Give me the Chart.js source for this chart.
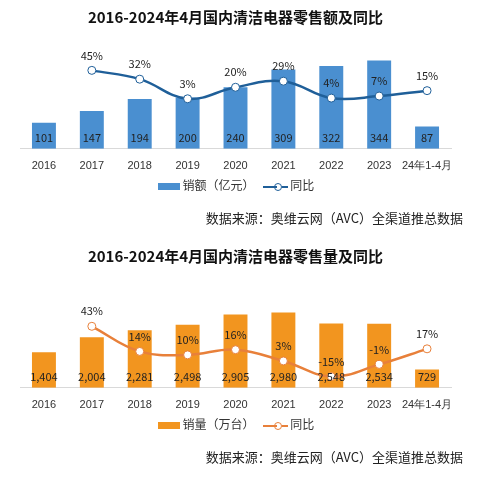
<!DOCTYPE html>
<html><head><meta charset="utf-8">
<script src="https://cdn.jsdelivr.net/npm/chart.js@4"></script>
<style>
body{margin:0;background:#fff;font-family:"Noto Sans CJK SC","Noto Sans",sans-serif;}
.block{position:relative;width:499px;height:239px;}
.block canvas{position:absolute;left:0;top:0;}
.legend{position:absolute;top:176px;left:0;width:472px;text-align:center;font-size:12px;color:#333;}
.legend span{display:inline-block;vertical-align:middle;}
.src{position:absolute;top:208px;right:36px;font-size:13px;color:#222;}
</style></head>
<body>
<div class="block"><canvas id="c1" width="499" height="239"></canvas>
<div class="legend"><span style="width:22px;height:7px;background:#4a8fd0"></span> 销额（亿元） &nbsp;&nbsp;<span style="width:14px;height:2px;background:#1f5f99"></span><span style="width:6px;height:6px;border:1px solid #1f5f99;border-radius:50%;margin-left:-3px"></span><span style="width:6px;height:2px;background:#1f5f99"></span> 同比</div>
<div class="src">数据来源：奥维云网（AVC）全渠道推总数据</div></div>
<div class="block"><canvas id="c2" width="499" height="239"></canvas>
<div class="legend"><span style="width:22px;height:7px;background:#f2951f"></span> 销量（万台） &nbsp;&nbsp;<span style="width:14px;height:2px;background:#e8803a"></span><span style="width:6px;height:6px;border:1px solid #e8803a;border-radius:50%;margin-left:-3px"></span><span style="width:6px;height:2px;background:#e8803a"></span> 同比</div>
<div class="src">数据来源：奥维云网（AVC）全渠道推总数据</div></div>
<script>
const years = ['2016','2017','2018','2019','2020','2021','2022','2023','24年1-4月'];
const salesValue = [101,147,194,200,240,309,322,344,87];
const valueYoY = [null,45,32,3,20,29,4,7,15];
const salesVolume = [1404,2004,2281,2498,2905,2980,2548,2534,729];
const volumeYoY = [null,43,14,10,16,3,-15,-1,17];

const labelPlugin = {
  id: 'labels',
  afterDatasetsDraw(chart) {
    const ctx = chart.ctx;
    ctx.save();
    ctx.font = '11px "Noto Sans CJK SC", "Noto Sans", sans-serif';
    ctx.fillStyle = '#222';
    ctx.textAlign = 'center';
    ctx.textBaseline = 'middle';
    const base = chart.scales.y.bottom;
    chart.getDatasetMeta(0).data.forEach((b, i) => {
      ctx.fillText(chart.data.datasets[0].data[i].toLocaleString('en-US'), b.x, base - 11);
    });
    chart.getDatasetMeta(1).data.forEach((p, i) => {
      const v = chart.data.datasets[1].data[i];
      if (v == null) return;
      ctx.fillText(v + '%', p.x, p.y - 15);
    });
    ctx.restore();
  }
};

function makeChart(id, title, bars, line, barColor, lineColor, yMax, y2Min, y2Max) {
  new Chart(document.getElementById(id), {
    data: {
      labels: years,
      datasets: [
        { type: 'bar', data: bars, backgroundColor: barColor, barPercentage: 0.5, categoryPercentage: 1, order: 2 },
        { type: 'line', data: line, yAxisID: 'y2', borderColor: lineColor, borderWidth: 2.5, tension: 0.4,
          pointRadius: 4, pointBackgroundColor: '#fff', pointBorderColor: lineColor, pointBorderWidth: 1, order: 1 }
      ]
    },
    options: {
      responsive: false, animation: false,
      layout: { padding: { left: 20, right: 48, top: 0, bottom: 63 } },
      plugins: {
        legend: { display: false }, tooltip: { enabled: false },
        title: { display: true, text: title, color: '#111', font: { size: 15, weight: 'bold', family: '"Noto Sans CJK SC", sans-serif' }, padding: { top: 8, bottom: 18 } }
      },
      scales: {
        x: { grid: { display: false }, border: { color: '#d9d9d9' }, ticks: { color: '#333', font: { size: 11 }, maxRotation: 0, autoSkip: false } },
        y: { display: false, min: 0, max: yMax },
        y2: { display: false, min: y2Min, max: y2Max }
      }
    },
    plugins: [labelPlugin]
  });
}
makeChart('c1', '2016-2024年4月国内清洁电器零售额及同比', salesValue, valueYoY, '#4a8fd0', '#1f5f99', 408, -71, 84);
makeChart('c2', '2016-2024年4月国内清洁电器零售量及同比', salesVolume, volumeYoY, '#f2951f', '#e8803a', 4147, -28, 93);
</script>
</body></html>
